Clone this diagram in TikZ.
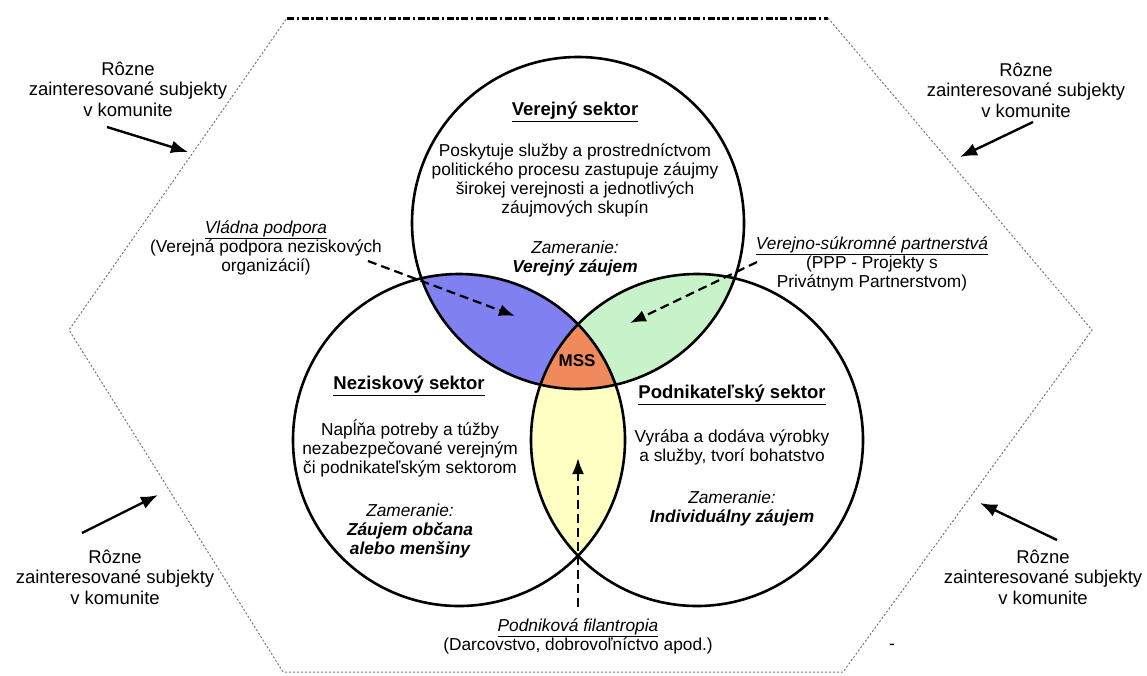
\documentclass[tikz,border=0pt]{standalone}
\usepackage{fontspec}
\setmainfont{Liberation Sans}
\usetikzlibrary{arrows.meta}
\definecolor{vpurple}{RGB}{128,128,240}
\definecolor{vgreen}{RGB}{200,243,200}
\definecolor{vyellow}{RGB}{255,255,196}
\definecolor{vorange}{RGB}{240,138,92}
\definecolor{hexgray}{RGB}{120,120,120}
\begin{document}
\begin{tikzpicture}[x=1pt,y=-1pt,
  txt/.style={font=\fontsize{17.3}{19}\selectfont, align=center, inner sep=0pt},
  ttl/.style={font=\fontsize{18.5}{20}\selectfont\bfseries, align=center, inner sep=0pt},
  outer/.style={font=\fontsize{18.5}{20.5}\selectfont, align=center, inner sep=0pt},
  ring/.style={draw=black, line width=2.6pt},
  solidarrow/.style={line width=2.4pt, -{Latex[length=17pt,width=13pt]}},
  dasharrow/.style={line width=2.2pt, dash pattern=on 9pt off 5pt, -{Latex[length=16pt,width=12pt]}},
  hexthin/.style={draw=hexgray, line width=1pt, dash pattern=on 2pt off 2pt},
  hextop/.style={draw=black, line width=3pt, dash pattern=on 7pt off 2.5pt on 2.5pt off 2.5pt}]
\useasboundingbox (0,0) rectangle (1147,675);
% hexagon
\coordinate (hTL) at (287,18);
\coordinate (hTR) at (828,18);
\coordinate (hR) at (1092,330);
\coordinate (hBR) at (843,672);
\coordinate (hBL) at (283,672);
\coordinate (hL) at (69,330);
\draw[hextop] (hTL) -- (hTR);
\draw[hexthin] (hTR) -- (hR) -- (hBR) -- (hBL) -- (hL) -- (hTL);
% circles
\coordinate (cT) at (578,223);
\coordinate (cL) at (459,440);
\coordinate (cR) at (697,440);
\begin{scope}\clip (cT) circle[radius=166pt]; \fill[vpurple] (cL) circle[radius=166pt];\end{scope}
\begin{scope}\clip (cT) circle[radius=166pt]; \fill[vgreen] (cR) circle[radius=166pt];\end{scope}
\begin{scope}\clip (cL) circle[radius=166pt]; \fill[vyellow] (cR) circle[radius=166pt];\end{scope}
\begin{scope}\clip (cT) circle[radius=166pt]; \clip (cL) circle[radius=166pt]; \fill[vorange] (cR) circle[radius=166pt];\end{scope}
\draw[ring] (cT) circle[radius=166pt];
\draw[ring] (cL) circle[radius=166pt];
\draw[ring] (cR) circle[radius=166pt];
% MSS
\node[font=\fontsize{17}{18}\selectfont\bfseries, inner sep=0pt] (mss) at (577,361) {MSS};
% top circle texts
\node[ttl] (vtitle) at (575,112) {\underline{Verejný sektor}};
\node[txt] (vdesc) at (575,180) {Poskytuje služby a prostredníctvom\\politického procesu zastupuje záujmy\\širokej verejnosti a jednotlivých\\záujmových skupín};
\node[txt] (vfocus) at (575,259) {\itshape Zameranie:\\\bfseries\itshape Verejný záujem};
% left circle texts
\node[ttl] (ntitle) at (409,386) {\underline{Neziskový sektor}};
\node[txt] (ndesc) at (410,448) {Napĺňa potreby a túžby\\nezabezpečované verejným\\či podnikateľským sektorom};
\node[txt] (nfocus) at (410,531) {\itshape Zameranie:\\\bfseries\itshape Záujem občana\\\bfseries\itshape alebo menšiny};
% right circle texts
\node[ttl] (ptitle) at (732,395) {\underline{Podnikateľský sektor}};
\node[txt] (pdesc) at (732,447) {Vyrába a dodáva výrobky\\a služby, tvorí bohatstvo};
\node[txt] (pfocus) at (732,509) {\itshape Zameranie:\\\bfseries\itshape Individuálny záujem};
% outer labels
\node[outer] (sTL) at (128,89) {Rôzne\\zainteresované subjekty\\v komunite};
\node[outer] (sTR) at (1026,90) {Rôzne\\zainteresované subjekty\\v komunite};
\node[outer] (sBL) at (115,577) {Rôzne\\zainteresované subjekty\\v komunite};
\node[outer] (sBR) at (1043,577) {Rôzne\\zainteresované subjekty\\v komunite};
\coordinate (aTLs) at (107,127); \coordinate (aTLe) at (188,152);
\coordinate (aTRs) at (1033,122); \coordinate (aTRe) at (960,157);
\coordinate (aBLs) at (82,533); \coordinate (aBLe) at (158,495);
\coordinate (aBRs) at (1057,540); \coordinate (aBRe) at (980,503);
\draw[solidarrow] (aTLs) -- (aTLe);
\draw[solidarrow] (aTRs) -- (aTRe);
\draw[solidarrow] (aBLs) -- (aBLe);
\draw[solidarrow] (aBRs) -- (aBRe);
% intersection labels
\node[txt] (vlad) at (266,248) {\itshape\underline{Vládna podpora}\\(Verejná podpora neziskových\\organizácií)};
\node[txt] (ppp) at (872,264) {\itshape\underline{Verejno-súkromné partnerstvá}\\(PPP - Projekty s\\Privátnym Partnerstvom)};
\node[txt] (fil) at (578,636) {\itshape\underline{Podniková filantropia}\\(Darcovstvo, dobrovoľníctvo apod.)};
\coordinate (dVs) at (368,261); \coordinate (dVe) at (515,316);
\coordinate (dPs) at (757,262); \coordinate (dPe) at (630,323);
\coordinate (dFs) at (578,607); \coordinate (dFe) at (578,458);
\draw[dasharrow] (dVs) -- (dVe);
\draw[dasharrow] (dPs) -- (dPe);
\draw[dasharrow] (dFs) -- (dFe);
\node[txt] (dash) at (892,647) {-};
\end{tikzpicture}
\end{document}
